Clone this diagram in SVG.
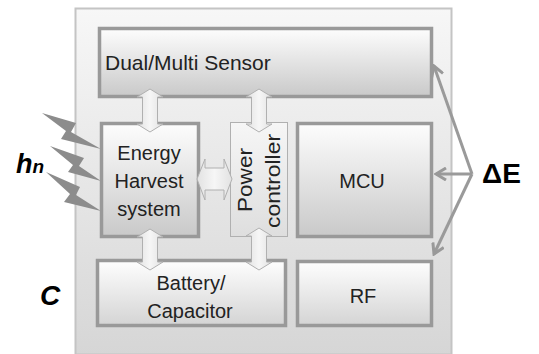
<svg xmlns="http://www.w3.org/2000/svg" width="539" height="354" viewBox="0 0 539 354">
<defs>
<linearGradient id="gOuter" x1="0" y1="0" x2="0" y2="1"><stop offset="0" stop-color="#f7f7f7"/><stop offset="1" stop-color="#d6d6d6"/></linearGradient>
<linearGradient id="gBox" x1="0" y1="0" x2="0" y2="1"><stop offset="0" stop-color="#fdfdfd"/><stop offset="1" stop-color="#c9c9c9"/></linearGradient>
<linearGradient id="gLow" x1="0" y1="0" x2="0" y2="1"><stop offset="0" stop-color="#fefefe"/><stop offset="1" stop-color="#d4d4d4"/></linearGradient>
<linearGradient id="gPow" x1="0" y1="0" x2="0" y2="1"><stop offset="0" stop-color="#f6f6f6"/><stop offset="1" stop-color="#dedede"/></linearGradient>
<linearGradient id="gArr" x1="0" y1="0" x2="1" y2="0"><stop offset="0" stop-color="#e2e2e2"/><stop offset="0.5" stop-color="#f6f6f6"/><stop offset="1" stop-color="#e2e2e2"/></linearGradient>
<marker id="chev" viewBox="-12 -7 14 14" markerWidth="14" markerHeight="14" refX="0" refY="0" orient="auto" markerUnits="userSpaceOnUse">
<path d="M-10,-6 L0,0 L-10,6" fill="none" stroke="#999" stroke-width="3" stroke-linejoin="miter"/>
</marker>
<style>
.box{stroke:#999;stroke-width:3.5;}
.lbl{font-family:"Liberation Sans",Arial,sans-serif;font-size:20px;fill:#222;text-anchor:middle;}
.barr{fill:url(#gArr);stroke:#b0b0b0;stroke-width:1;}
.bolt{fill:#8c8c8c;}
.de{stroke:#9a9a9a;stroke-width:3;fill:none;marker-end:url(#chev);}
.sym{font-family:"Liberation Sans",Arial,sans-serif;font-weight:bold;fill:#000;}
</style>
</defs>

<g id="outer">
<rect x="75.5" y="8.5" width="376" height="346" fill="url(#gOuter)" stroke="#c4c4c4" stroke-width="2"/>
</g>

<g id="bolts">
<polygon class="bolt" points="42,113 76,123 71,132 101,149 61,139 66,131"/>
<polygon class="bolt" points="50,146 84,158 79,166 101,181 68,172 73,165"/>
<polygon class="bolt" points="46,172 80,187 76,195 101,211 64,202 70,194"/>
</g>

<g id="sensor">
<rect class="box" x="99.5" y="28.5" width="332" height="68" fill="url(#gBox)"/>
<text x="105" y="70" style="font-family:'Liberation Sans',Arial,sans-serif;font-size:21px;fill:#222;">Dual/Multi Sensor</text>
</g>

<g id="energy">
<rect class="box" x="101.5" y="123.5" width="97" height="113" fill="url(#gBox)"/>
<text class="lbl" x="149" y="160">Energy</text>
<text class="lbl" x="149" y="188">Harvest</text>
<text class="lbl" x="149" y="216">system</text>
</g>

<g id="power">
<rect x="230.5" y="122.5" width="57" height="114" fill="url(#gPow)" stroke="#b0b0b0" stroke-width="1"/>
<text class="lbl" transform="translate(252,180) rotate(-90)" textLength="64" lengthAdjust="spacingAndGlyphs">Power</text>
<text class="lbl" transform="translate(280,181) rotate(-90)" textLength="94" lengthAdjust="spacingAndGlyphs">controller</text>
</g>

<g id="mcu">
<rect class="box" x="297.5" y="123.5" width="134" height="113" fill="url(#gBox)"/>
<text class="lbl" x="362" y="188">MCU</text>
</g>

<g id="battery">
<rect class="box" x="97.5" y="260.5" width="188" height="65" fill="url(#gLow)"/>
<text class="lbl" x="191" y="290">Battery/</text>
<text class="lbl" x="190" y="318">Capacitor</text>
</g>

<g id="rf">
<rect class="box" x="297.5" y="261.5" width="134" height="64" fill="url(#gLow)"/>
<text class="lbl" x="363" y="303">RF</text>
</g>

<g id="connectors">
<path class="barr" d="M150,89 L163,97 L157.5,97 L157.5,124 L163,124 L150,132 L137,124 L142.5,124 L142.5,97 L137,97 Z"/>
<path class="barr" d="M259,89 L272,97 L266.5,97 L266.5,124 L272,124 L259,132 L246,124 L251.5,124 L251.5,97 L246,97 Z"/>
<path class="barr" d="M150,229 L163,237 L157.5,237 L157.5,262 L163,262 L150,270 L137,262 L142.5,262 L142.5,237 L137,237 Z"/>
<path class="barr" d="M259,228 L272,236 L266.5,236 L266.5,262 L272,262 L259,270 L246,262 L251.5,262 L251.5,236 L246,236 Z"/>
<path class="barr" d="M197,179 L205,159 L205,168 L224,168 L224,159 L232,179 L224,200 L224,190 L205,190 L205,200 Z"/>
<line class="de" x1="472" y1="174" x2="434" y2="66"/>
<line class="de" x1="472" y1="174" x2="436" y2="174"/>
<line class="de" x1="472" y1="174" x2="434" y2="254"/>
</g>

<g id="labels">
<text class="sym" x="482" y="183" style="font-size:28px;">ΔE</text>
<text class="sym" x="16" y="173" style="font-size:27px;font-style:italic;">h<tspan style="font-size:19px;">n</tspan></text>
<text class="sym" x="40" y="305" style="font-size:28px;font-style:italic;">C</text>
</g>
</svg>
